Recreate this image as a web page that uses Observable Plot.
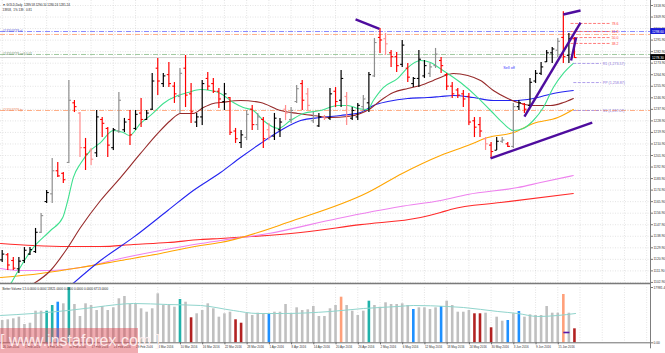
<!DOCTYPE html>
<html><head><meta charset="utf-8">
<script src="https://cdn.jsdelivr.net/npm/d3@7"></script>
<script src="https://cdn.jsdelivr.net/npm/@observablehq/plot@0.6"></script>
<style>
html,body{margin:0;padding:0;background:#fff;}
#wrap{position:relative;width:665px;height:353px;overflow:hidden;font-family:"Liberation Sans",Arial,sans-serif;}
#wrap svg{display:block;}
#wm{position:absolute;left:0;top:328px;width:138px;height:25px;background:rgba(222,72,82,0.45);color:rgba(255,240,240,0.95);font-size:16px;line-height:25px;white-space:pre;text-align:center;font-family:"Liberation Sans",Arial,sans-serif;}
</style></head><body><div id="wrap"></div>
<script>
// ---------- data ----------
const open = [1120.5,1124.5,1120.0,1113.5,1120.0,1125.0,1127.0,1142.0,1166.0,1172.0,
1190.0,1188.0,1196.5,1243.0,1235.0,1208.0,1206.0,1204.0,1230.0,1223.0,
1208.0,1221.0,1222.0,1230.0,1223.0,1235.0,1230.0,1238.0,1270.0,1258.0,
1265.0,1256.0,1248.0,1270.0,1250.0,1228.0,1232.0,1262.0,1258.0,1252.0,
1244.0,1247.0,1221.0,1212.0,1216.0,1238.0,1226.0,1230.0,1222.0,1217.0,
1222.0,1238.0,1230.0,1244.0,1258.0,1250.0,1229.0,1225.0,1232.0,1231.0,
1252.0,1245.0,1248.0,1231.0,1232.0,1240.0,1243.0,1264.0,1294.0,1293.0,
1282.0,1279.0,1273.0,1270.0,1258.0,1262.0,1264.0,1266.0,1272.0,1276.0,
1265.0,1256.0,1253.0,1250.0,1248.0,1229.0,1226.0,1215.0,1210.0,1206.0,
1213.0,1211.0,1209.0,1240.0,1242.0,1241.0,1260.0,1266.0,1275.0,1282.0,
1284.0,1294.0,1280.0,1293.0];
const high = [1127.8,1125.5,1122.3,1122.3,1130.1,1130.1,1145.0,1156.7,1174.6,1199.6,
1196.4,1188.6,1260.4,1244.8,1235.4,1215.2,1207.4,1237.0,1231.5,1223.7,
1223.0,1251.0,1230.8,1237.0,1237.0,1246.4,1237.0,1265.9,1277.6,1265.9,
1274.4,1258.8,1269.8,1279.9,1258.1,1234.7,1260.4,1266.6,1262.0,1254.2,
1258.1,1247.1,1223.0,1221.4,1237.0,1240.9,1234.7,1231.5,1226.9,1234.7,
1230.8,1240.9,1239.3,1256.5,1260.4,1254.2,1235.4,1234.7,1233.1,1254.2,
1254.9,1268.2,1251.0,1239.3,1242.5,1248.7,1266.6,1293.2,1301.0,1297.1,
1283.8,1282.2,1291.6,1273.7,1262.7,1283.8,1276.0,1273.7,1285.4,1278.3,
1265.9,1258.8,1254.2,1252.6,1250.3,1231.5,1231.5,1215.9,1212.0,1215.9,
1215.9,1212.0,1242.5,1244.8,1242.5,1262.0,1268.2,1274.4,1283.8,1286.1,
1293.2,1314.0,1297.1,1293.9];
const low = [1118.4,1112.2,1112.2,1109.9,1117.7,1123.9,1125.5,1141.1,1164.5,1164.5,
1184.7,1180.0,1195.7,1235.4,1200.3,1190.2,1194.1,1200.3,1215.9,1200.3,
1205.8,1219.1,1219.8,1209.7,1221.4,1223.7,1229.2,1237.0,1248.7,1254.9,
1254.9,1242.5,1234.7,1239.3,1226.9,1223.7,1225.3,1252.6,1250.3,1238.6,
1237.0,1217.5,1211.3,1207.4,1213.6,1221.4,1221.4,1207.4,1213.6,1213.6,
1215.9,1229.2,1226.9,1242.5,1237.0,1237.0,1226.9,1223.7,1229.2,1229.2,
1239.3,1239.3,1225.3,1229.2,1229.2,1235.4,1235.4,1262.7,1281.5,1279.9,
1270.5,1266.6,1270.5,1258.8,1254.9,1254.9,1262.0,1262.7,1269.8,1265.9,
1252.6,1246.4,1246.4,1239.3,1225.3,1215.9,1215.9,1205.8,1199.6,1205.8,
1211.3,1208.1,1207.4,1237.0,1234.7,1239.3,1258.1,1264.3,1274.4,1273.7,
1278.3,1273.7,1273.7,1277.6];
const close = [1125.0,1116.5,1114.0,1119.5,1128.0,1128.5,1142.0,1155.0,1173.0,1190.0,
1186.0,1183.0,1245.0,1240.0,1208.0,1203.0,1199.0,1232.0,1227.0,1210.0,
1222.0,1245.0,1228.0,1218.0,1234.0,1230.0,1235.0,1260.0,1260.0,1264.0,
1258.0,1250.0,1266.0,1249.0,1236.0,1232.0,1258.0,1256.0,1252.0,1246.0,
1250.0,1220.0,1215.0,1218.0,1234.0,1226.0,1232.0,1215.0,1217.0,1231.0,
1228.0,1235.0,1237.0,1254.0,1245.0,1241.0,1233.0,1232.0,1231.0,1250.0,
1244.0,1262.0,1233.0,1237.0,1241.0,1246.0,1265.0,1290.0,1292.0,1289.0,
1279.0,1272.0,1288.0,1263.0,1262.0,1277.0,1272.0,1271.0,1281.0,1272.0,
1256.0,1250.0,1249.0,1246.0,1228.0,1224.0,1221.0,1211.0,1205.0,1213.0,
1214.0,1209.0,1240.0,1243.0,1238.0,1259.0,1266.0,1271.0,1282.0,1285.0,
1291.0,1279.0,1293.0,1278.3];
// bar tone: k black, g gray, r red, p pink
const barTone = ("krrkkkkgkg"+"rrgrprpkrr"+"kgkrkrkkrk"+"rrgrrkkrrr"+"krrkgrgrpk"+
  "kpggrpgkpk"+"rkpkkgkgrp"+"rrkrkkkggr"+"rrrrrrrprk"+"grgkrkkkkk"+"grkr").split("");

const volume = [7250,7480,7800,8330,5950,6370,10280,10280,10280,12130,13200,12680,17950,12460,8550,12680,12130,10500,11800,10500,
11380,14310,15060,12460,12460,11060,9950,11060,15930,12130,12130,11580,14080,13200,8130,9430,10500,12680,11060,8330,
9430,9950,7480,6370,9630,8880,9630,9430,9200,9950,9950,12460,9430,11380,10500,10730,11800,8550,8550,11060,
12130,14830,12130,10280,8880,10280,13530,12130,11580,13010,12460,12460,12680,12130,10830,11380,11380,10830,11380,11800,
13530,12130,9950,9950,10500,9430,9430,9630,4880,8330,7020,7250,9430,10180,8330,9100,8880,8880,11800,9630,
9630,15710,9630,4550];
// volume tone: s silver, t teal, b blue, d dark red, o salmon
const volTone = ("ssssssss"+"ttbst"+"sssssssssssssssssss"+"t"+"s"+"d"+"sssssss"+"dd"+"ssss"+"b"+
  "sssssssssss"+"s"+"o"+"ssss"+"t"+"sssssss"+"b"+"ssss"+"b"+"sssss"+"dd"+"s"+"d"+"ss"+"b"+"s"+"b"+
  "sssssss"+"o"+"s"+"d").split("");

// moving averages: [bar index, price]
const maGreen = [[1.5,1101.5],[5.6,1130.1],[8.7,1143.4],[10.9,1153.5],[11.8,1166.8],[12.8,1184.7],[14.1,1195.7],[15.9,1205.8],[17.7,1212.0],[20.0,1221.4],[21.8,1219.8],[22.9,1217.5],[24.9,1226.9],[27.1,1234.7],[29.0,1242.5],[31.6,1248.7],[33.4,1251.0],[35.7,1253.4],[37.5,1252.6],[39.3,1250.3],[41.6,1243.2],[43.4,1239.3],[45.2,1237.0],[47.0,1229.2],[49.7,1223.0],[51.9,1229.2],[54.2,1234.7],[57.3,1237.0],[60.4,1240.9],[62.2,1240.9],[64.0,1238.6],[65.8,1237.8],[66.8,1244.8],[68.6,1254.9],[71.2,1262.0],[73.0,1270.5],[75.3,1276.0],[77.1,1274.4],[78.9,1269.5],[82.5,1258.8],[85.6,1247.1],[87.9,1237.0],[90.2,1226.9],[92.0,1221.4],[93.8,1223.0],[95.6,1229.2],[97.4,1239.3],[99.2,1254.9],[101.0,1265.9],[102.8,1273.7]];
const maBrown = [[5.1,1100.5],[8.7,1112.2],[11.8,1130.1],[14.1,1145.7],[17.7,1166.8],[21.3,1184.7],[24.9,1203.5],[28.0,1219.1],[30.3,1229.2],[32.1,1234.7],[34.4,1234.7],[36.2,1239.3],[38.0,1242.5],[39.3,1243.2],[42.9,1244.8],[46.5,1243.2],[50.1,1237.0],[53.2,1234.7],[56.0,1233.1],[59.1,1231.5],[62.2,1232.3],[64.5,1234.7],[66.3,1238.6],[68.1,1244.8],[70.4,1251.0],[73.0,1254.2],[75.3,1256.5],[77.6,1260.4],[79.0,1263.0],[81.2,1265.9],[83.8,1264.3],[86.1,1260.4],[88.4,1252.6],[91.0,1246.4],[92.8,1243.2],[95.6,1240.9],[98.7,1240.9],[101.0,1243.2],[102.8,1246.4]];
const maBlue = [[12.6,1101.5],[17.7,1120.0],[23.6,1138.0],[29.8,1159.0],[34.4,1174.6],[39.3,1188.6],[42.9,1200.3],[46.5,1211.3],[50.1,1221.4],[53.7,1229.2],[57.3,1231.5],[60.9,1233.1],[64.5,1235.4],[66.8,1240.9],[69.4,1244.0],[73.0,1246.4],[76.6,1247.1],[78.9,1247.9],[81.2,1248.7],[84.8,1247.1],[88.4,1244.8],[92.0,1244.8],[95.6,1246.4],[99.2,1250.3],[102.8,1252.6]];
const maOrange = [[-0.3,1106.7],[6.9,1109.9],[14.1,1114.5],[21.3,1120.0],[28.5,1125.5],[35.7,1131.7],[39.3,1134.0],[52.4,1151.2],[65.8,1173.0],[72.0,1187.9],[78.9,1201.9],[83.8,1209.7],[87.4,1215.9],[92.0,1219.8],[95.6,1226.9],[100.0,1231.5],[102.8,1237.8]];
const maViolet = [[-0.3,1113.8],[3.3,1112.2],[8.7,1112.2],[14.1,1114.5],[21.3,1121.6],[28.5,1127.8],[35.7,1133.3],[39.3,1135.6],[48.0,1141.1],[60.4,1152.8],[71.7,1162.1],[78.9,1166.8],[83.8,1171.5],[92.8,1176.9],[96.9,1180.8],[102.8,1186.3]];
const maRed = [[-0.3,1133.3],[5.6,1131.7],[11.8,1130.9],[17.7,1130.9],[23.6,1132.5],[29.8,1134.0],[35.7,1136.4],[39.3,1137.2],[53.7,1141.8],[64.5,1148.0],[75.3,1153.5],[78.9,1157.4],[80.7,1159.8],[89.7,1165.2],[102.8,1172.3]];
const volMA = [[-0.3,8880],[5.6,9530],[11.8,10500],[16.4,11480],[20.8,12450],[23.6,12780],[29.8,12450],[35.7,12130],[41.6,10500],[46.0,9530],[50.6,9530],[59.1,10180],[65.0,11150],[71.2,11800],[74.0,12130],[80.2,11800],[83.0,11480],[89.2,10180],[92.8,9530],[96.4,8550],[100.0,8880],[103.2,9530]];

// trend lines [i1, p1, i2, p2]
const trendLines = [[63.6,1308.0,67.9,1300.6],[94.0,1232.3,104.1,1305.6],[87.9,1199.6,106.2,1227.6],[101.0,1311.9,104.1,1315.0],[102.4,1276.0,103.3,1293.9]];
// order / horizontal lines
const orderLines = [
  {p:1298.6, c:"#6a6aff", label:"#13203779 sl", tc:"#5656d8"},
  {p:1296.3, c:"#ff9a6a", label:"", tc:"#ff9a6a"},
  {p:1280.7, c:"#86bb86", label:"#13203779 sell 0.01", tc:"#6f8f6f"},
  {p:1237.0, c:"#ff9a6a", label:"#13203779 tp", tc:"#f08a60"}
];
const bidPrice = 1278.3;
const fibLevels = [{p:1304.9, t:"78.6"},{p:1298.6, t:"61.8"},{p:1293.9, t:"50.0"},{p:1289.3, t:"38.2"}];
const pivots = [{p:1273.7, t:"R1 (1,273.57)"},{p:1258.8, t:"PP (1,258.87)"},{p:1237.0, t:"S1 (1,237.07)"}];
const priceTicks = [1318.90,1309.90,1300.90,1291.90,1282.90,1273.90,1264.90,1255.90,1246.90,1237.90,1228.90,1219.90,1210.90,1201.90,1192.90,1183.90,1174.90,1165.90,1156.90,1147.90,1138.90,1129.90,1120.90,1111.90,1102.90];
const dateLabels = ["26 Jan 2016","1 Feb 2016","5 Feb 2016","11 Feb 2016","17 Feb 2016","23 Feb 2016","29 Feb 2016","4 Mar 2016","10 Mar 2016","16 Mar 2016","22 Mar 2016","28 Mar 2016","1 Apr 2016","8 Apr 2016","14 Apr 2016","20 Apr 2016","26 Apr 2016","2 May 2016","6 May 2016","12 May 2016","18 May 2016","24 May 2016","30 May 2016","3 Jun 2016","9 Jun 2016","15 Jun 2016"];
const headerLine1 = "\u25BC GOLD,Daily  1289.58 1290.10 1280.24 1281.24";
const headerLine2 = "13958,  1% 139   0.81";
const volumeTitle = "Better Volume 1.5 0.0000 0.0000 13821.0000 0.0000 0.0000 0.0000 6713.0000";
const volMax = 17981.4;
const volMarker = [{i1:101.0, i2:102.1, v:3350}];

// ---------- build ----------
const barColor = {k:"#000000", g:"#8e8e8e", r:"#ff0000", p:"#ff8c8c"};
const volColor = {s:"#c0c0c0", t:"#20b2aa", b:"#1e90ff", d:"#b22222", o:"#ffa07a"};
const bars = open.map((o,i)=>({i, o, h:high[i], l:low[i], c:close[i], col:barColor[barTone[i]]}));
const vols = volume.map((v,i)=>({i, v, col:volColor[volTone[i]]}));
const xDomain = [-0.306, 116.69];
const yDomain = [1102.06, 1322.8];
const gridIdx = d3.range(0, 117, 4);
const dateIdx = dateLabels.map((d,k)=>k*4);
const T = 0.38;
const boxes = [{p:orderLines[0].p, c:"#1a1ad8"},{p:bidPrice, c:"#000000"}];
const dotted = {stroke:"#c9c9c9", strokeWidth:0.5, strokeDasharray:"1,1.5"};
const dashDot = "5,1.5,1,1.5";
const font = "Liberation Sans, Arial, sans-serif";
const P = d => d[1], I = d => d[0];

const pricePlot = Plot.plot({
  width:665, height:283, marginLeft:0, marginRight:15, marginTop:0, marginBottom:0,
  x:{type:"linear", domain:xDomain, axis:null},
  y:{domain:yDomain, axis:null},
  color:{type:"identity"},
  style:{fontFamily:font, background:"transparent", overflow:"visible"},
  marks:[
    Plot.ruleX(gridIdx, dotted),
    Plot.ruleY(priceTicks, dotted),
    Plot.ruleY([bidPrice], {stroke:"#c4c4c4", strokeWidth:0.8}),
    Plot.ruleY(orderLines, {y:"p", stroke:"c", strokeWidth:0.8, strokeDasharray:dashDot}),
    Plot.text(orderLines, {y:"p", frameAnchor:"left", dx:2, dy:-0.8, text:"label", fill:"tc", fontSize:3.3, textAnchor:"start"}),
    Plot.line(maRed, {x:I, y:P, stroke:"#ff2a2a", strokeWidth:1.1, curve:"monotone-x", clip:true}),
    Plot.line(maViolet, {x:I, y:P, stroke:"#ee82ee", strokeWidth:1.1, curve:"monotone-x", clip:true}),
    Plot.line(maOrange, {x:I, y:P, stroke:"#ffa500", strokeWidth:1.1, curve:"monotone-x", clip:true}),
    Plot.line(maBlue, {x:I, y:P, stroke:"#2323f0", strokeWidth:1.1, curve:"monotone-x", clip:true}),
    Plot.line(maBrown, {x:I, y:P, stroke:"#962a2a", strokeWidth:1.1, curve:"monotone-x", clip:true}),
    Plot.line(maGreen, {x:I, y:P, stroke:"#3ee08e", strokeWidth:1.1, curve:"monotone-x", clip:true}),
    Plot.ruleX(bars, {x:"i", y1:"l", y2:"h", stroke:"col", strokeWidth:1.2}),
    Plot.link(bars, {x1:d=>d.i-T, x2:"i", y1:"o", y2:"o", stroke:"col", strokeWidth:1.1}),
    Plot.link(bars, {x1:"i", x2:d=>d.i+T, y1:"c", y2:"c", stroke:"col", strokeWidth:1.1}),
    Plot.link(fibLevels, {x1:()=>102.3, x2:()=>109.5, y1:"p", y2:"p", stroke:"#ff5a5a", strokeWidth:0.8, strokeDasharray:"3,1.5"}),
    Plot.text(fibLevels, {x:()=>109.7, y:"p", text:"t", fill:"#ff4040", fontSize:3.5, textAnchor:"start"}),
    Plot.link(pivots, {x1:()=>102.8, x2:()=>107.8, y1:"p", y2:"p", stroke:"#9c88e6", strokeWidth:0.8, strokeDasharray:"3,1.5"}),
    Plot.text(pivots, {x:()=>108.1, y:"p", text:"t", fill:"#8b72d8", fontSize:3.6, textAnchor:"start"}),
    Plot.link(trendLines, {x1:d=>d[0], y1:d=>d[1], x2:d=>d[2], y2:d=>d[3], stroke:"#4e0c9e", strokeWidth:2.4}),
    Plot.text(["Sell off"], {x:()=>90.2, y:()=>1270.5, text:d=>d, fill:"#3c3cff", fontSize:3.8, textAnchor:"start"}),
    Plot.text([headerLine1], {frameAnchor:"top-left", dx:2, dy:3.3, text:d=>d, fontSize:3, fill:"#222", textAnchor:"start"}),
    Plot.text([headerLine2], {frameAnchor:"top-left", dx:2, dy:8.3, text:d=>d, fontSize:3, fill:"#222", textAnchor:"start"}),
    Plot.ruleX([xDomain[1]], {stroke:"#7d7d7d", strokeWidth:1}),
    Plot.ruleY([yDomain[0]], {stroke:"#7a7a7a", strokeWidth:1.5}),
    Plot.axisY({anchor:"right", ticks:priceTicks, tickSize:2, tickPadding:1, fontSize:3.3, tickFormat:d=>d.toFixed(2), label:null, stroke:"#777", fill:"#333"}),
    Plot.rect(boxes, {x1:()=>xDomain[1]+0.05, x2:()=>xDomain[1]+2.7, y1:d=>d.p-2.3, y2:d=>d.p+2.3, fill:"c"}),
    Plot.text(boxes, {x:()=>xDomain[1], y:"p", dx:1.5, text:d=>d.p.toFixed(2), fill:"white", fontSize:3.3, textAnchor:"start"})
  ]
});

const volPlot = Plot.plot({
  width:665, height:70, marginLeft:0, marginRight:15, marginTop:4, marginBottom:10.7,
  x:{type:"linear", domain:xDomain, axis:null},
  y:{domain:[0, volMax], axis:null},
  color:{type:"identity"},
  style:{fontFamily:font, background:"transparent", overflow:"visible"},
  marks:[
    Plot.ruleX(gridIdx, dotted),
    Plot.ruleX(vols, {x:"i", y1:0, y2:"v", stroke:"col", strokeWidth:2.6}),
    Plot.line(volMA, {x:I, y:P, stroke:"#90d4cc", strokeWidth:1, curve:"monotone-x"}),
    Plot.link(volMarker, {x1:"i1", x2:"i2", y1:"v", y2:"v", stroke:"#5a18a8", strokeWidth:1.6}),
    Plot.ruleY([0], {stroke:"#6e6e6e", strokeWidth:1}),
    Plot.ruleX([xDomain[1]], {stroke:"#7d7d7d", strokeWidth:1, insetTop:-4, insetBottom:-6}),
    Plot.axisY({anchor:"right", ticks:[0, volMax], tickSize:2, tickPadding:1, fontSize:3.3, tickFormat:d=>d===0?"0.00":d.toFixed(1), label:null, stroke:"#777", fill:"#333"}),
    Plot.axisX({ticks:dateIdx, tickSize:2, tickPadding:1, fontSize:3, textAnchor:"start", dx:0.5, tickFormat:i=>dateLabels[i/4], label:null, stroke:"#666", fill:"#333"}),
    Plot.text([volumeTitle], {frameAnchor:"top-left", dx:2, dy:0.8, text:d=>d, fontSize:3, fill:"#222", textAnchor:"start"})
  ]
});

const wrap = document.getElementById("wrap");
wrap.appendChild(pricePlot);
wrap.appendChild(volPlot);
const wm = document.createElement("div");
wm.id = "wm";
wm.textContent = "[ www.instaforex.com ]";
wrap.appendChild(wm);
</script>
</body></html>
